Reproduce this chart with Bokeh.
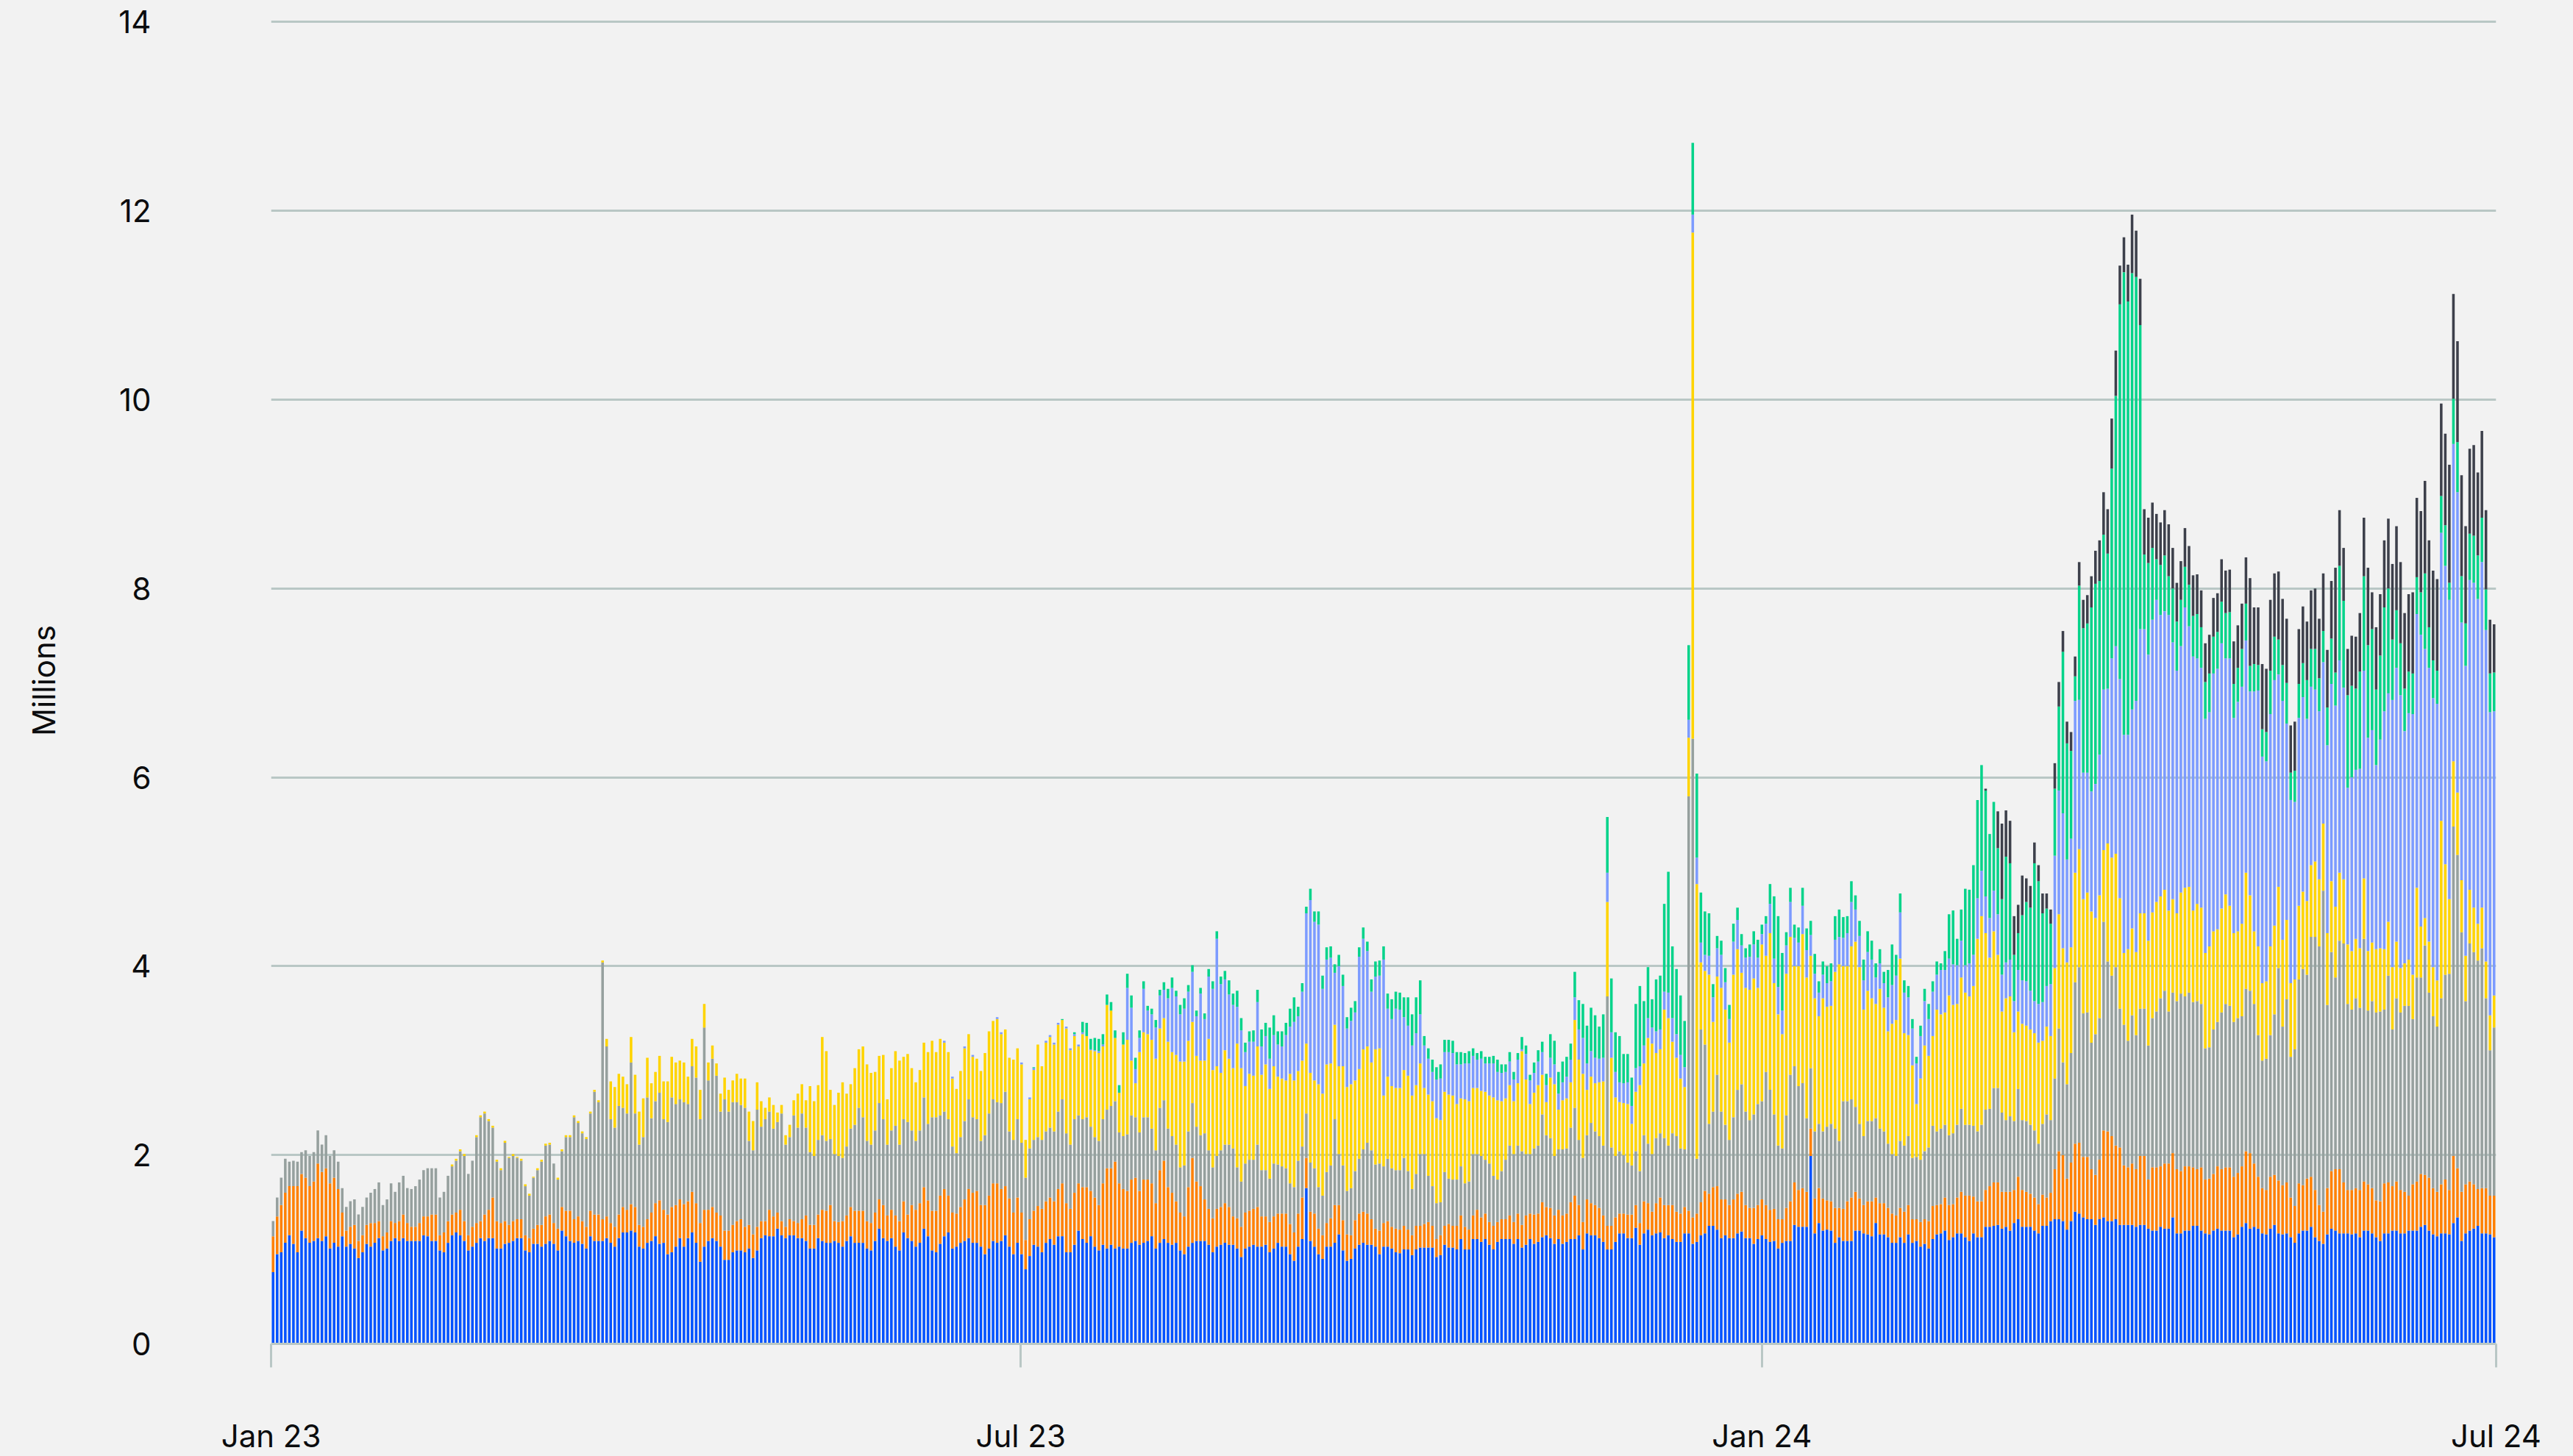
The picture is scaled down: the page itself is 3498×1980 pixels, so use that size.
import json
from bokeh.plotting import figure
from bokeh.models import ColumnDataSource, Range1d, FixedTicker, CustomJSTickFormatter
from bokeh.embed import file_html
from bokeh.resources import INLINE

# ---------------- data (daily, Jan 1 2023 .. Jun 30 2024), units: 0.01 million ----------------
N_DAYS = 547
X_TICK_POS = [0.01, 184.3, 366.5, 546.99]
X_TICK_LABELS = ["Jan 23", "Jul 23", "Jan 24", "Jul 24"]
Y_TICKS = [0, 2, 4, 6, 8, 10, 12, 14]
Y_LABEL = "Millions"

blue = [
    76, 95, 97, 107, 115, 106, 97, 120, 112, 107,
    109, 112, 109, 114, 101, 107, 103, 114, 103, 106,
    101, 91, 97, 106, 103, 107, 112, 99, 101, 109,
    112, 109, 112, 109, 109, 109, 109, 115, 114, 109,
    109, 99, 97, 107, 115, 118, 115, 109, 99, 103,
    107, 112, 109, 112, 112, 101, 101, 106, 107, 109,
    112, 112, 99, 97, 106, 106, 103, 106, 109, 106,
    99, 120, 114, 109, 107, 109, 106, 101, 114, 109,
    109, 109, 112, 107, 103, 112, 118, 118, 120, 118,
    103, 101, 107, 109, 114, 106, 107, 95, 97, 103,
    112, 103, 112, 118, 107, 87, 103, 109, 112, 109,
    103, 89, 89, 97, 99, 99, 97, 101, 91, 99,
    112, 115, 114, 114, 122, 115, 112, 115, 115, 112,
    112, 109, 101, 101, 112, 109, 107, 107, 109, 107,
    103, 109, 114, 107, 107, 107, 101, 99, 109, 122,
    112, 109, 112, 103, 99, 118, 112, 109, 103, 107,
    122, 114, 99, 97, 106, 114, 118, 101, 103, 107,
    109, 112, 107, 107, 103, 95, 101, 109, 107, 109,
    115, 103, 95, 107, 95, 79, 93, 105, 103, 97,
    107, 111, 105, 114, 114, 97, 97, 105, 120, 111,
    107, 114, 103, 99, 105, 101, 105, 101, 103, 101,
    101, 107, 109, 105, 107, 109, 114, 101, 107, 111,
    107, 105, 107, 99, 95, 103, 107, 109, 109, 109,
    105, 97, 103, 105, 107, 105, 105, 101, 92, 101,
    103, 105, 103, 103, 105, 97, 101, 107, 103, 103,
    95, 88, 103, 111, 165, 109, 103, 95, 90, 103,
    103, 107, 116, 99, 88, 90, 101, 105, 107, 105,
    105, 103, 95, 103, 103, 101, 97, 96, 100, 100,
    94, 100, 102, 102, 102, 102, 92, 94, 105, 102,
    102, 100, 111, 100, 100, 111, 111, 108, 111, 105,
    100, 108, 111, 111, 111, 106, 111, 102, 105, 111,
    106, 108, 113, 115, 112, 106, 111, 106, 108, 111,
    111, 115, 100, 117, 115, 115, 112, 108, 100, 100,
    108, 117, 117, 112, 112, 123, 105, 117, 121, 115,
    117, 118, 112, 115, 111, 108, 108, 117, 117, 106,
    108, 115, 117, 125, 125, 121, 112, 115, 112, 112,
    117, 119, 112, 112, 106, 111, 115, 111, 108, 109,
    101, 107, 109, 109, 126, 124, 124, 124, 199, 117,
    128, 120, 121, 120, 107, 113, 109, 109, 109, 120,
    120, 117, 116, 114, 128, 116, 116, 113, 107, 107,
    113, 107, 116, 107, 109, 103, 106, 101, 111, 116,
    117, 120, 110, 113, 117, 117, 113, 109, 117, 113,
    113, 124, 124, 125, 126, 122, 124, 120, 128, 132,
    124, 124, 124, 120, 117, 125, 125, 130, 132, 132,
    130, 121, 130, 140, 138, 134, 132, 132, 126, 132,
    134, 130, 130, 132, 126, 126, 126, 126, 124, 126,
    126, 122, 120, 120, 124, 122, 122, 134, 117, 117,
    120, 120, 125, 125, 120, 117, 116, 120, 122, 120,
    120, 120, 113, 116, 124, 128, 122, 124, 122, 117,
    116, 122, 126, 117, 116, 117, 113, 107, 117, 120,
    120, 124, 113, 109, 106, 116, 122, 120, 117, 117,
    117, 116, 117, 113, 120, 120, 117, 113, 109, 117,
    117, 120, 120, 117, 117, 120, 120, 120, 124, 126,
    120, 116, 114, 117, 117, 116, 128, 134, 109, 117,
    120, 122, 125, 117, 117, 116, 113,
]

orange = [
    38, 40, 50, 53, 52, 61, 70, 60, 64, 60,
    63, 79, 73, 72, 69, 69, 61, 25, 17, 18,
    25, 18, 18, 20, 25, 21, 18, 15, 17, 21,
    16, 21, 25, 19, 15, 15, 19, 20, 21, 28,
    28, 16, 21, 23, 22, 21, 27, 21, 16, 21,
    21, 18, 28, 30, 43, 29, 27, 24, 19, 21,
    20, 20, 16, 15, 16, 20, 23, 29, 28, 22,
    23, 25, 27, 32, 25, 26, 24, 23, 27, 28,
    28, 23, 23, 21, 21, 25, 27, 24, 28, 27,
    23, 23, 25, 30, 35, 46, 35, 42, 48, 44,
    41, 45, 39, 43, 42, 41, 39, 33, 33, 30,
    33, 31, 31, 29, 31, 33, 27, 25, 25, 25,
    18, 15, 28, 21, 17, 15, 12, 17, 15, 16,
    20, 27, 25, 25, 25, 33, 34, 40, 21, 22,
    27, 27, 31, 34, 34, 34, 29, 29, 30, 31,
    35, 27, 30, 33, 31, 33, 25, 38, 39, 42,
    44, 38, 42, 44, 51, 50, 39, 38, 35, 38,
    44, 52, 53, 55, 44, 52, 56, 61, 63, 55,
    52, 51, 44, 48, 44, 31, 39, 36, 43, 46,
    44, 44, 46, 50, 56, 52, 46, 55, 50, 55,
    59, 48, 52, 48, 65, 85, 81, 92, 67, 63,
    61, 67, 67, 57, 67, 65, 56, 48, 77, 83,
    59, 55, 44, 40, 40, 63, 90, 63, 58, 44,
    38, 36, 40, 40, 42, 40, 30, 32, 32, 38,
    38, 38, 42, 32, 30, 32, 34, 31, 35, 35,
    32, 30, 35, 44, 32, 31, 35, 27, 25, 25,
    30, 40, 31, 32, 28, 25, 30, 33, 33, 33,
    27, 19, 25, 25, 27, 23, 25, 25, 25, 21,
    21, 25, 23, 25, 27, 23, 19, 21, 20, 25,
    23, 25, 25, 24, 21, 25, 31, 26, 27, 24,
    25, 21, 21, 21, 25, 23, 27, 24, 31, 27,
    31, 30, 37, 30, 32, 30, 31, 30, 30, 39,
    46, 32, 29, 36, 34, 32, 32, 28, 25, 25,
    26, 21, 21, 25, 25, 24, 23, 34, 28, 25,
    32, 37, 35, 32, 36, 32, 30, 28, 24, 28,
    30, 35, 45, 34, 41, 46, 41, 38, 35, 41,
    42, 42, 35, 32, 38, 36, 38, 36, 34, 34,
    31, 25, 35, 42, 45, 39, 41, 37, 29, 37,
    37, 34, 31, 31, 37, 31, 34, 42, 46, 41,
    34, 30, 35, 37, 27, 33, 33, 31, 31, 29,
    31, 33, 31, 25, 23, 26, 26, 29, 35, 31,
    31, 35, 37, 35, 38, 44, 44, 48, 39, 38,
    38, 39, 43, 46, 45, 39, 37, 41, 35, 45,
    39, 37, 35, 35, 31, 33, 30, 30, 53, 72,
    70, 54, 62, 72, 75, 64, 66, 53, 53, 63,
    92, 95, 90, 78, 82, 63, 61, 65, 61, 73,
    73, 52, 67, 67, 64, 69, 69, 68, 68, 66,
    68, 68, 62, 60, 67, 57, 59, 60, 66, 65,
    67, 67, 64, 65, 64, 76, 80, 67, 55, 48,
    47, 55, 53, 56, 52, 54, 42, 39, 53, 48,
    55, 53, 50, 38, 34, 49, 61, 65, 68, 54,
    46, 47, 48, 50, 52, 49, 48, 39, 42, 53,
    54, 47, 52, 46, 44, 37, 49, 52, 56, 53,
    56, 49, 47, 52, 57, 47, 71, 52, 52, 52,
    52, 47, 39, 48, 48, 41, 44,
]

gray = [
    16, 20, 29, 36, 26, 27, 26, 23, 29, 32,
    31, 35, 29, 35, 29, 29, 29, 26, 25, 27,
    27, 28, 30, 29, 32, 36, 41, 33, 35, 40,
    33, 41, 41, 37, 40, 43, 46, 49, 51, 49,
    49, 40, 43, 48, 51, 55, 62, 69, 65, 70,
    91, 110, 107, 94, 74, 63, 56, 83, 71, 69,
    65, 62, 52, 45, 54, 58, 67, 75, 74, 63,
    52, 59, 78, 78, 108, 99, 93, 93, 103, 130,
    119, 272, 180, 110, 105, 115, 105, 102, 150, 99,
    85, 95, 129, 100, 108, 114, 96, 98, 116, 107,
    106, 108, 103, 133, 133, 110, 193, 137, 157, 145,
    110, 139, 126, 130, 126, 121, 126, 89, 89, 124,
    100, 108, 104, 93, 96, 114, 87, 87, 112, 101,
    112, 93, 77, 73, 79, 79, 74, 70, 71, 70,
    67, 73, 83, 91, 109, 99, 85, 83, 87, 102,
    91, 75, 84, 95, 81, 87, 98, 79, 73, 77,
    95, 81, 99, 99, 85, 82, 81, 70, 64, 74,
    83, 95, 80, 76, 68, 74, 87, 89, 86, 91,
    100, 71, 77, 83, 74, 66, 75, 75, 73, 73,
    74, 74, 74, 82, 89, 74, 68, 78, 72, 72,
    74, 68, 64, 68, 68, 62, 66, 64, 54, 56,
    60, 68, 64, 62, 66, 66, 58, 56, 66, 64,
    62, 60, 60, 48, 54, 59, 58, 58, 54, 70,
    62, 54, 56, 60, 62, 66, 72, 54, 48, 52,
    54, 52, 66, 49, 49, 46, 56, 52, 50, 48,
    43, 48, 56, 54, 47, 52, 48, 44, 42, 54,
    56, 91, 54, 58, 46, 50, 52, 58, 66, 75,
    73, 68, 71, 60, 66, 62, 62, 63, 72, 62,
    49, 55, 76, 74, 49, 42, 38, 35, 57, 48,
    49, 49, 52, 46, 51, 65, 59, 65, 57, 62,
    53, 45, 51, 63, 74, 72, 72, 78, 65, 63,
    70, 72, 93, 76, 74, 63, 64, 70, 69, 79,
    93, 69, 68, 68, 85, 78, 76, 74, 243, 83,
    65, 66, 62, 55, 52, 57, 55, 70, 63, 61,
    69, 68, 71, 63, 76, 80, 69, 61, 439, 507,
    58, 183, 155, 74, 80, 118, 93, 79, 69, 87,
    110, 114, 99, 93, 99, 107, 104, 141, 127, 100,
    78, 75, 98, 134, 123, 110, 111, 78, 64, 71,
    68, 71, 78, 82, 84, 71, 114, 106, 104, 90,
    79, 73, 85, 85, 84, 79, 76, 68, 63, 63,
    71, 70, 73, 65, 66, 66, 72, 78, 85, 78,
    80, 77, 74, 75, 77, 88, 75, 75, 75, 74,
    81, 85, 82, 100, 100, 84, 76, 80, 73, 93,
    74, 75, 73, 71, 64, 75, 88, 77, 96, 130,
    98, 100, 116, 171, 186, 152, 153, 134, 149, 150,
    221, 180, 170, 189, 147, 149, 134, 157, 142, 156,
    156, 142, 158, 165, 178, 183, 161, 170, 178, 188,
    180, 184, 175, 178, 173, 139, 139, 153, 153, 166,
    173, 171, 164, 164, 159, 172, 172, 169, 150, 135,
    139, 150, 170, 225, 168, 194, 149, 166, 216, 229,
    216, 254, 268, 274, 340, 194, 232, 203, 242, 253,
    197, 191, 201, 193, 257, 184, 198, 199, 201, 184,
    219, 166, 194, 188, 197, 201, 175, 216, 208, 243,
    196, 182, 175, 197, 217, 229, 349, 332, 275, 194,
    252, 246, 242, 254, 201, 154, 178,
]

yellow = [0] * 44 + [
    2, 2, 2, 2, 0, 0,
    2, 2, 2, 2, 2, 2, 2, 2, 1, 2,
    1, 2, 2, 2, 1, 2, 2, 2, 2, 0,
    2, 2, 2, 2, 2, 2, 2, 2, 2, 2,
    2, 2, 8, 40, 43, 34, 33, 31, 27, 41,
    35, 41, 42, 37, 31, 39, 40, 43, 43, 44,
    41, 42, 29, 29, 33, 31, 25, 19, 14, 13,
    19, 23, 23, 23, 30, 28, 31, 31, 31, 29,
    27, 12, 15, 25, 10, 9, 10, 13, 16, 36,
    31, 29, 70, 58, 58, 104, 95, 52, 52, 67,
    80, 56, 47, 60, 62, 75, 81, 76, 62, 50,
    68, 48, 66, 79, 89, 66, 72, 66, 62, 64,
    58, 76, 81, 69, 81, 73, 71, 72, 68, 70,
    77, 69, 64, 64, 74, 87, 87, 83, 88, 73,
    66, 78, 85, 75, 83, 40, 52, 74, 98, 78,
    94, 96, 92, 92, 84, 111, 100, 88, 73, 90,
    86, 81, 91, 93, 77, 111, 101, 67, 42, 97,
    100, 58, 36, 85, 90, 88, 94, 97, 84, 87,
    92, 89, 95, 112, 110, 96, 86, 75, 79, 77,
    118, 103, 95, 82, 100, 91, 85, 131, 120, 82,
    91, 89, 104, 101, 112, 95, 103, 93, 93, 93,
    116, 113, 95, 91, 74, 95, 93, 109, 108, 114,
    108, 100, 93, 105, 110, 110, 96, 95, 106, 102,
    93, 122, 122, 75, 87, 87, 87, 87, 93, 101,
    99, 94, 96, 70, 86, 90, 90, 87, 85, 89,
    89, 80, 72, 89, 85, 70, 70, 69, 72, 72,
    83, 84, 74, 65, 64, 56, 66, 106, 79, 53,
    59, 64, 42, 35, 64, 76, 42, 52, 53, 48,
    93, 85, 89, 48, 49, 51, 57, 68, 100, 95,
    62, 52, 55, 62, 44, 63, 91, 76, 112, 117,
    90, 89, 136, 135, 97, 83, 74, 66, 62, 536,
    291, 71, 78, 158, 95, 104, 131, 122, 103, 151,
    149, 118, 131, 138, 144, 123, 166, 123, 166, 139,
    139, 121, 150, 146, 106, 127, 158, 149, 119, 141,
    114, 141, 127, 125, 166, 187, 143, 143, 162, 175,
    166, 134, 138, 130, 121, 148, 131, 119, 138, 144,
    193, 119, 107, 98, 56, 86, 112, 97, 95, 129,
    121, 119, 148, 136, 128, 139, 140, 136, 148, 204,
    221, 187, 160, 166, 141, 107, 129, 127, 94, 82,
    102, 101, 101, 103, 107, 88, 93, 89, 117, 121,
    121, 129, 112, 116, 125, 121, 127, 139, 123, 130,
    76, 125, 125, 120, 117, 76, 97, 92, 88, 101,
    101, 111, 112, 116, 108, 107, 107, 99, 93, 107,
    115, 112, 97, 103, 102, 101, 107, 104, 98, 110,
    116, 106, 94, 92, 98, 123, 101, 77, 94, 82,
    82, 94, 94, 86, 92, 84, 78, 74, 78, 82,
    78, 76, 80, 71, 71, 76, 75, 75, 72, 68,
    63, 62, 63, 63, 64, 63, 62, 67, 67, 64,
    57, 66, 60, 47, 45, 49, 47, 95, 54, 29,
    54, 52, 49, 188, 117, 79, 69, 66, 55, 48,
    57, 47, 39, 43, 39, 37, 34,
]

periwinkle = [0] * 165 + [
    2, 0, 2, 0, 0, 2, 0, 2, 0, 0,
    0, 0, 0, 2, 2, 0, 0, 0, 0, 2,
    0, 2, 2, 0, 0,
    2, 2, 2, 2, 0, 2, 2, 2, 2, 2,
    0, 1, 1, 2, 2, 0, 0, 0, 0, 0,
    55, 56, 15, 15, 46, 25, 27, 33, 35, 30,
    46, 68, 62, 50, 56, 52, 53, 42, 71, 44,
    66, 86, 135, 94, 75, 68, 67, 39, 40, 36,
    34, 36, 47, 30, 30, 32, 33, 34, 34, 48,
    50, 62, 58, 73, 138, 183, 168, 169, 111, 111,
    112, 55, 106, 85, 62, 67, 72, 119, 117, 101,
    75, 77, 77, 144, 72, 71, 84, 83, 56, 53,
    53, 55, 52, 45, 38, 31, 41, 44, 42, 45,
    45, 42, 36, 38, 40, 34, 30, 34, 30, 34,
    36, 30, 30, 28, 25, 23, 25, 2, 27, 25,
    21, 25, 24, 18, 21, 21, 17, 19, 23, 24,
    24, 32, 38, 28, 27, 27, 25, 25, 31, 27,
    27, 21, 21, 23, 19, 25, 20, 19, 21, 17,
    23, 21, 19, 27, 25, 25, 25, 21, 19, 19,
    28, 21, 17, 20, 26, 30, 35, 29, 25, 35,
    31, 29, 32, 35, 36, 32, 11, 34, 31, 26,
    29, 25, 30, 37, 30, 25, 30, 29, 22, 26,
    25, 25, 25, 26, 34, 29, 30, 35, 47, 34,
    33, 31, 41, 41, 28, 27, 26, 36, 41, 47,
    49, 43, 40, 39, 43, 45, 47, 39, 47, 37,
    47, 45, 39, 43, 41, 39, 29, 35, 33, 43,
    48, 39, 42, 43, 43, 39, 38, 39, 33, 44,
    46, 47, 41, 34, 41, 41, 43, 55, 119, 131,
    143, 109, 115, 182, 158, 134, 127, 127, 142, 149,
    170, 164, 211, 220, 232, 231, 227, 232, 266, 301,
    301, 303, 310, 320, 298, 295, 313, 272, 257, 261,
    297, 276, 269, 260, 254, 248, 248, 273, 276, 281,
    250, 262, 228, 243, 251, 246, 216, 254, 271, 240,
    233, 246, 260, 225, 253, 208, 194, 188, 199, 206,
    193, 189, 182, 178, 171, 199, 209, 213, 225, 203,
    166, 184, 179, 190, 220, 226, 225, 195, 221, 252,
    242, 283, 290, 289, 246, 261, 276, 290, 309, 285,
    290, 285, 293, 305, 316, 317, 336, 318, 273, 307,
    328, 344, 344, 366, 351, 321, 301,
]

green = [0] * 187 + [
    1, 0, 0, 0, 0, 0, 0, 1, 0, 0, 2, 0, 11,
    14, 11, 13, 13, 11, 11, 9, 8, 8, 13,
    15, 13, 12, 8, 8, 5, 6, 8, 6, 8,
    10, 11, 6, 10, 11, 7, 7, 6, 6, 6,
    8, 8, 8, 8, 9, 15, 12, 17, 13, 10,
    11, 12, 13, 18, 14, 33, 21, 14, 16, 13,
    19, 26, 10, 9, 7, 12, 11, 14, 14, 13,
    12, 9, 12, 12, 12, 14, 12, 10, 12, 10,
    13, 16, 16, 14, 16, 21, 18, 18, 21, 30,
    33, 38, 36, 10, 11, 13, 13, 15, 13, 13,
    13, 13, 13, 11, 13, 8, 7, 8, 7, 7,
    8, 13, 9, 8, 10, 8, 7, 13, 9, 6,
    11, 12, 11, 12, 25, 25, 23, 22, 21, 17,
    27, 31, 36, 40, 46, 45, 34, 46, 59, 57,
    42, 49, 31, 30, 30, 68, 85, 47, 54, 30,
    55, 57, 93, 128, 76, 69, 63, 49, 79, 76,
    89, 53, 46, 45, 14, 13, 15, 15, 15, 19,
    13, 12, 10, 13, 14, 19, 10, 8, 21, 66,
    75, 61, 14, 15, 14, 16, 19, 23, 15, 21,
    12, 14, 18, 19, 25, 29, 22, 18, 22, 15,
    16, 22, 22, 20, 15, 15, 12, 29, 43, 22,
    20, 13, 12, 10, 7, 11, 13, 16, 11, 14,
    7, 20, 47, 57, 28, 33, 81, 78, 95, 104,
    112, 112, 89, 94, 70, 80, 112, 102, 49, 39,
    69, 84, 88, 146, 130, 94, 82, 64, 71, 89,
    171, 123, 93, 26, 121, 153, 158, 195, 212, 184,
    164, 143, 201, 265, 397, 490, 459, 462, 449, 322,
    79, 97, 76, 43, 53, 59, 41, 57, 52, 49,
    43, 44, 43, 47, 43, 39, 41, 39, 39, 44,
    48, 49, 36, 36, 40, 39, 27, 29, 27, 29,
    31, 46, 46, 37, 38, 43, 29, 33, 36, 36,
    41, 40, 43, 35, 33, 40, 48, 35, 100, 92,
    98, 97, 86, 103, 100, 98, 107, 80, 89, 110,
    111, 64, 61, 55, 45, 44, 43, 39, 45, 80,
    43, 40, 35, 39, 43, 18, 48, 53, 49, 45,
    49, 50, 46, 47, 43, 41, 41,
]

dark = [0] * 421 + [
    2, 0, 0, 39, 80, 49, 45, 41, 30,
    42, 25, 23, 22, 17, 21, 16, 15, 27, 26,
    22, 23, 20, 21, 25, 30, 30, 33, 35, 43,
    45, 47, 53, 48, 41, 37, 39, 62, 49, 49,
    48, 48, 48, 48, 45, 48, 55, 43, 41, 41,
    41, 41, 43, 42, 39, 41, 41, 41, 41, 45,
    45, 45, 45, 45, 48, 49, 93, 60, 61, 69,
    67, 75, 67, 72, 70, 68, 50, 52, 58, 60,
    62, 62, 64, 63, 61, 61, 61, 111, 59, 56,
    49, 53, 55, 62, 62, 82, 39, 66, 65, 71,
    74, 80, 89, 86, 80, 82, 86, 84, 86, 98,
    92, 95, 97, 98, 97, 125, 111, 107, 107, 103,
    90, 96, 88, 92, 84, 57, 51,
]

SERIES = ["blue", "orange", "gray", "yellow", "periwinkle", "green", "dark"]
SERIES_VALUES = [blue, orange, gray, yellow, periwinkle, green, dark]
COLORS = ["#0052FF", "#FF8000", "#96A09E", "#FFD400", "#7C9BFF", "#03D38A", "#3D404B"]

# ---------------- build ----------------
def fit(vals):
    vals = list(vals)
    if len(vals) != N_DAYS:
        print("length mismatch", len(vals))
    return (vals + [0] * N_DAYS)[:N_DAYS]

data = {"x": [d + 0.5 for d in range(N_DAYS)]}
for name, vals in zip(SERIES, SERIES_VALUES):
    data[name] = [v / 100.0 for v in fit(vals)]
src = ColumnDataSource(data)

BG = "#F2F2F2"
GRID = "#B9C7C5"
TXT = "#0B0C0E"
FONT = "Inter"

p = figure(width=3498, height=1980,
           x_range=Range1d(0, N_DAYS), y_range=Range1d(0, 14.05),
           output_backend="svg", toolbar_location=None,
           min_border_left=368, min_border_right=105,
           min_border_top=23, min_border_bottom=153,
           background_fill_color=BG, border_fill_color=BG,
           outline_line_color=None)

p.vbar_stack(SERIES, x="x", width=0.64, color=COLORS, line_color=None, source=src)

# grid
p.xgrid.grid_line_color = None
p.ygrid.ticker = FixedTicker(ticks=Y_TICKS)
p.ygrid.grid_line_color = GRID
p.ygrid.grid_line_width = 3

# y axis
p.yaxis.ticker = FixedTicker(ticks=Y_TICKS)
p.yaxis.axis_line_color = None
p.yaxis.major_tick_line_color = None
p.yaxis.minor_tick_line_color = None
p.yaxis.major_tick_in = 0
p.yaxis.major_tick_out = 0
p.yaxis.major_label_standoff = 163
p.yaxis.major_label_text_font = FONT
p.yaxis.major_label_text_font_size = "42px"
p.yaxis.major_label_text_color = TXT
p.yaxis.axis_label = Y_LABEL
p.yaxis.axis_label_text_font = FONT
p.yaxis.axis_label_text_font_size = "42px"
p.yaxis.axis_label_text_font_style = "normal"
p.yaxis.axis_label_text_color = TXT
p.yaxis.axis_label_standoff = 73

# x axis
tick_map = {str(int(round(t * 10))): lab for t, lab in zip(X_TICK_POS, X_TICK_LABELS)}
p.xaxis.ticker = FixedTicker(ticks=X_TICK_POS)
p.xaxis.formatter = CustomJSTickFormatter(
    args=dict(m=tick_map),
    code="const k = String(Math.round(tick * 10)); return (k in m) ? m[k] : '';")
p.xaxis.axis_line_color = GRID
p.xaxis.axis_line_width = 3
p.xaxis.major_tick_line_color = GRID
p.xaxis.major_tick_line_width = 3
p.xaxis.major_tick_in = 0
p.xaxis.major_tick_out = 32
p.xaxis.minor_tick_line_color = None
p.xaxis.major_label_standoff = 67
p.xaxis.major_label_text_font = FONT
p.xaxis.major_label_text_font_size = "42px"
p.xaxis.major_label_text_color = TXT

html = file_html(p, INLINE)
html = html.replace("<head>", "<head><style>body{background:%s;}</style>" % BG, 1)
open("out.html", "w").write(html)
